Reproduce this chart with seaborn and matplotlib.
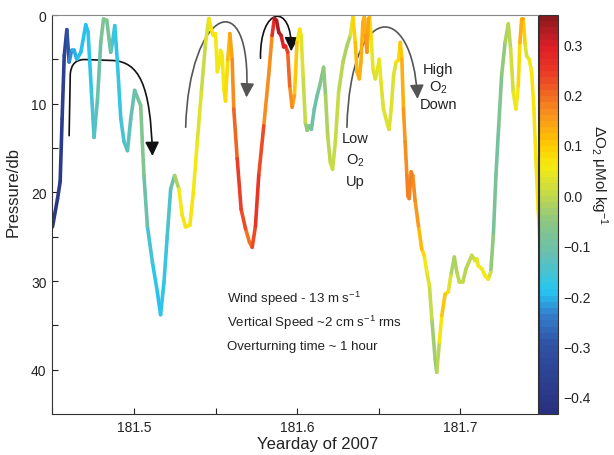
import numpy as np
import pandas as pd
import matplotlib
matplotlib.use("Agg")
import matplotlib.pyplot as plt
import seaborn as sns
from matplotlib.colors import LinearSegmentedColormap, Normalize
from matplotlib.path import Path
from matplotlib.patches import FancyArrowPatch
import matplotlib.cm as cm

# ---------------- data ----------------
yearday = [
    181.4500, 181.4531, 181.4547, 181.4559, 181.4572, 181.4588, 181.4602, 181.4617, 181.4633, 181.4649,
    181.4674, 181.4704, 181.4718, 181.4739, 181.4755, 181.4776, 181.4796, 181.4813, 181.4833, 181.4847,
    181.4857, 181.4868, 181.4882, 181.4898, 181.4919, 181.4939, 181.4960, 181.4980, 181.5004, 181.5021,
    181.5041, 181.5051, 181.5061, 181.5082, 181.5113, 181.5143, 181.5163, 181.5184, 181.5204, 181.5225,
    181.5249, 181.5275, 181.5296, 181.5316, 181.5343, 181.5364, 181.5388, 181.5413, 181.5439, 181.5459,
    181.5474, 181.5486, 181.5500, 181.5511, 181.5520, 181.5531, 181.5541, 181.5551, 181.5561, 181.5575,
    181.5588, 181.5602, 181.5612, 181.5633, 181.5657, 181.5684, 181.5708, 181.5725, 181.5745, 181.5765,
    181.5796, 181.5826, 181.5847, 181.5861, 181.5874, 181.5888, 181.5902, 181.5918, 181.5929, 181.5943,
    181.5955, 181.5970, 181.5984, 181.6000, 181.6016, 181.6025, 181.6037, 181.6051, 181.6062, 181.6076,
    181.6088, 181.6106, 181.6123, 181.6139, 181.6153, 181.6163, 181.6175, 181.6188, 181.6204, 181.6218,
    181.6235, 181.6255, 181.6282, 181.6306, 181.6327, 181.6343, 181.6357, 181.6368, 181.6382, 181.6392,
    181.6404, 181.6412, 181.6420, 181.6429, 181.6437, 181.6445, 181.6455, 181.6466, 181.6480, 181.6494,
    181.6504, 181.6515, 181.6530, 181.6551, 181.6564, 181.6578, 181.6592, 181.6608, 181.6622, 181.6633,
    181.6643, 181.6653, 181.6663, 181.6674, 181.6680, 181.6688, 181.6700, 181.6710, 181.6724, 181.6745,
    181.6765, 181.6780, 181.6796, 181.6812, 181.6827, 181.6847, 181.6857, 181.6873, 181.6888, 181.6908,
    181.6928, 181.6943, 181.6965, 181.6980, 181.6996, 181.7017, 181.7037, 181.7072, 181.7092, 181.7102,
    181.7112, 181.7133, 181.7153, 181.7173, 181.7188, 181.7204, 181.7220, 181.7237, 181.7255, 181.7276,
    181.7296, 181.7310, 181.7326, 181.7343, 181.7357, 181.7367, 181.7378, 181.7388, 181.7398, 181.7408,
    181.7424, 181.7439, 181.7453, 181.7465, 181.7479, 181.7493,
]
pressure = [
    23.9, 20.7, 18.8, 11.7, 4.6, 1.65, 5.3, 4.0, 4.0, 5.0,
    4.2, 1.1, 1.9, 8.7, 13.8, 9.5, 3.1, 0.45, 0.6, 2.7,
    4.2, 3.1, 1.2, 5.3, 11.7, 14.3, 15.3, 11.7, 8.5, 9.3,
    10.2, 14.3, 18.1, 23.8, 27.9, 31.2, 33.8, 30.1, 24.9, 19.6,
    18.1, 19.6, 22.6, 23.9, 23.7, 20.0, 14.3, 8.7, 3.1, 0.4,
    1.6, 2.3, 2.1, 6.4, 5.7, 4.0, 4.6, 8.3, 9.7, 5.0,
    2.1, 5.0, 10.6, 16.2, 21.9, 24.1, 25.6, 26.2, 23.8, 18.1,
    12.5, 6.8, 2.3, 0.4, 0.6, 1.95, 2.3, 3.6, 3.5, 4.2,
    8.0, 10.4, 9.1, 3.1, 1.6, 2.3, 6.8, 12.1, 13.0, 12.5,
    12.9, 10.6, 9.1, 8.0, 6.8, 5.9, 9.1, 13.6, 16.6, 17.4,
    14.3, 8.7, 5.3, 3.5, 2.3, 0.26, 3.1, 6.4, 7.2, 5.3,
    0.8, 0.26, 2.3, 4.2, 0.45, 0.26, 2.7, 6.1, 7.2, 6.1,
    5.0, 7.6, 10.6, 12.1, 12.9, 10.6, 6.8, 5.3, 5.1, 3.1,
    5.0, 10.6, 14.3, 18.1, 20.4, 20.7, 17.7, 18.1, 20.9, 23.8,
    26.4, 27.1, 29.0, 30.5, 34.3, 38.8, 40.3, 36.9, 33.9, 31.5,
    31.2, 29.4, 27.3, 29.0, 30.1, 30.1, 28.6, 27.1, 27.7, 27.5,
    28.3, 28.6, 29.4, 29.8, 29.0, 24.9, 18.1, 12.5, 6.8, 3.1,
    1.0, 3.8, 8.7, 10.6, 8.0, 3.1, 0.45, 0.45, 3.1, 4.6,
    5.0, 6.4, 10.6, 16.2, 21.9, 26.5,
]
delta_o2 = [
    -0.41, -0.40, -0.39, -0.38, -0.36, -0.35, -0.25, -0.22, -0.20, -0.20,
    -0.19, -0.20, -0.19, -0.17, -0.14, -0.13, -0.09, -0.07, -0.08, -0.09,
    -0.12, -0.16, -0.18, -0.17, -0.16, -0.15, -0.13, -0.13, -0.11, -0.09,
    -0.07, -0.07, -0.08, -0.13, -0.17, -0.19, -0.19, -0.18, -0.16, -0.12,
    -0.08, 0.04, 0.07, 0.07, 0.07, 0.06, 0.05, 0.02, 0.00, 0.07,
    0.07, 0.06, 0.06, 0.06, 0.06, 0.05, 0.05, 0.06, 0.07, 0.10,
    0.13, 0.16, 0.18, 0.22, 0.25, 0.20, 0.17, 0.20, 0.25, 0.25,
    0.20, 0.14, 0.20, 0.33, 0.33, 0.33, 0.30, 0.28, 0.27, 0.22,
    0.18, 0.16, 0.12, 0.08, 0.05, 0.04, 0.02, -0.02, -0.06, -0.09,
    -0.10, -0.10, -0.10, -0.08, -0.06, -0.05, -0.03, -0.01, 0.00, 0.00,
    0.00, 0.00, -0.02, -0.03, 0.00, 0.06, 0.12, 0.12, 0.14, 0.13,
    0.13, 0.12, 0.15, 0.16, 0.13, 0.10, 0.06, 0.03, 0.02, 0.03,
    0.05, 0.04, 0.03, 0.03, 0.04, 0.03, 0.02, 0.04, 0.06, 0.09,
    0.12, 0.14, 0.16, 0.17, 0.18, 0.18, 0.17, 0.17, 0.16, 0.14,
    0.10, 0.07, 0.05, 0.02, -0.02, -0.05, -0.05, 0.04, 0.10, 0.12,
    0.05, 0.00, -0.03, -0.02, 0.00, 0.00, -0.01, -0.01, 0.03, 0.03,
    0.05, 0.06, 0.06, 0.05, -0.02, -0.07, -0.09, -0.09, -0.06, -0.03,
    -0.01, 0.00, 0.03, 0.06, 0.06, 0.10, 0.15, 0.14, 0.05, 0.02,
    0.04, 0.06, 0.07, 0.07, 0.07, 0.07,
]

x_ticks = [181.45, 181.5, 181.55, 181.6, 181.65, 181.7]
x_ticklabels = ["", "181.5", "", "181.6", "", "181.7"]
y_ticks = [0, 5, 10, 15, 20, 25, 30, 35, 40]
y_ticklabels = ["0", "", "10", "", "20", "", "30", "", "40"]
cbar_ticks = [-0.4, -0.3, -0.2, -0.1, 0.0, 0.1, 0.2, 0.3]

notes = ["Wind speed - 13 m s$^{-1}$",
         "Vertical Speed ~2 cm s$^{-1}$ rms",
         "Overturning time ~ 1 hour"]

# colormap anchors sampled from the reference colour bar
vmin, vmax = -0.434, 0.358
cmap_vals = [-0.434, -0.30, -0.24, -0.19, -0.12, -0.05, 0.0, 0.06, 0.10, 0.17, 0.25, 0.30, 0.358]
cmap_cols = [(0.16, 0.19, 0.50), (0.19, 0.32, 0.64), (0.20, 0.50, 0.80), (0.15, 0.78, 0.95),
             (0.40, 0.75, 0.70), (0.55, 0.78, 0.50), (0.76, 0.85, 0.30), (0.96, 0.92, 0.06),
             (1.00, 0.80, 0.00), (0.97, 0.55, 0.12), (0.92, 0.22, 0.15), (0.87, 0.12, 0.15),
             (0.55, 0.10, 0.12)]

# ---------------- style ----------------
sns.set_theme(style="white")
plt.rcParams["font.family"] = ["Liberation Sans", "DejaVu Sans"]
plt.rcParams["mathtext.default"] = "regular"

frac = [(v - vmin) / (vmax - vmin) for v in cmap_vals]
cmap = LinearSegmentedColormap.from_list("o2", list(zip(frac, cmap_cols)), N=64)
norm = Normalize(vmin=vmin, vmax=vmax)

fig = plt.figure(figsize=(6.14, 4.56), dpi=100)
ax = fig.add_axes([0.0847, 0.0899, 0.7915, 0.875])
cax = fig.add_axes([0.8779, 0.0899, 0.031, 0.875])

# segment table (each consecutive pair coloured by its mean ΔO2)
rows = []
for i in range(len(yearday) - 1):
    val = 0.5 * (delta_o2[i] + delta_o2[i + 1])
    rows.append((yearday[i], pressure[i], i, val))
    rows.append((yearday[i + 1], pressure[i + 1], i, val))
seg = pd.DataFrame(rows, columns=["yearday", "pressure", "seg", "do2"])

sns.lineplot(data=seg, x="yearday", y="pressure", hue="do2", units="seg",
             estimator=None, sort=False, palette=cmap, hue_norm=norm,
             legend=False, lw=2.6, solid_capstyle="round", ax=ax)

ax.set_xlim(181.4497, 181.7478)
ax.set_ylim(45, 0)
ax.set_xticks(x_ticks)
ax.set_xticklabels(x_ticklabels)
ax.set_yticks(y_ticks)
ax.set_yticklabels(y_ticklabels)
ax.tick_params(direction="in", length=4, width=0.8, colors="#222222",
               labelsize=10, bottom=True, left=True, top=False, right=False, pad=4)
for s in ax.spines.values():
    s.set_color("#333333")
    s.set_linewidth(0.8)
ax.spines["top"].set_color("#888888")

ax.set_xlabel("Yearday of 2007", fontsize=12, color="#222222")
ax.set_ylabel("Pressure/db", fontsize=12, color="#222222")
ax.xaxis.set_label_coords(0.547, -0.055)
ax.yaxis.set_label_coords(-0.064, 0.559)

# text notes
for k, (t, yy) in enumerate(zip(notes, [31.9, 34.6, 37.3])):
    ax.text(181.557, yy, t, fontsize=9.5, va="center", ha="left", color="#222222")
ax.text(181.6357, 16.3, "Low\nO$_2$\nUp", fontsize=10.5, ha="center", va="center",
        multialignment="center", linespacing=1.55, color="#222222")
ax.text(181.6866, 8.1, "High\nO$_2$\nDown", fontsize=10.5, ha="center", va="center",
        multialignment="center", linespacing=1.2, color="#222222")

# curved arrows (annotations)
arrows = [
    ([(181.4602, 13.61), (181.4609, 6.65), (181.4616, 5.07), (181.4692, 5.02),
      (181.4870, 5.13), (181.5029, 5.30), (181.5102, 7.78), (181.5113, 15.9)],
     [Path.MOVETO, Path.LINETO, Path.CURVE3, Path.CURVE3, Path.LINETO,
      Path.CURVE4, Path.CURVE4, Path.CURVE4], "#111111"),
    ([(181.5317, 12.66), (181.5336, -0.68), (181.5727, -4.06), (181.5690, 9.3)],
     [Path.MOVETO, Path.CURVE4, Path.CURVE4, Path.CURVE4], "#555555"),
    ([(181.5776, 4.88), (181.5770, -1.0), (181.5972, -1.5), (181.5964, 4.1)],
     [Path.MOVETO, Path.CURVE4, Path.CURVE4, Path.CURVE4], "#111111"),
    ([(181.6306, 12.66), (181.6327, -1.80), (181.6709, -1.80), (181.6739, 9.47)],
     [Path.MOVETO, Path.CURVE4, Path.CURVE4, Path.CURVE4], "#555555"),
]
for verts, codes, col in arrows:
    p = FancyArrowPatch(path=Path(verts, codes), arrowstyle="-|>,head_length=0.6,head_width=0.3",
                        mutation_scale=14, color=col, lw=1.2, transform=ax.transData,
                        clip_on=False)
    ax.add_patch(p)

# colour bar
sm = cm.ScalarMappable(norm=norm, cmap=cmap)
cb = fig.colorbar(sm, cax=cax)
cb.set_ticks(cbar_ticks)
cb.outline.set_edgecolor("#333333")
cb.outline.set_linewidth(0.8)
cax.tick_params(direction="in", length=3, width=0.7, colors="#222222", labelsize=10,
                left=True, right=True, pad=4)
cax.yaxis.set_ticks_position("both")
cax.tick_params(labelleft=False, labelright=True)
cb.set_label("ΔO$_2$ μMol kg$^{-1}$", fontsize=11, rotation=270, color="#222222")
cax.yaxis.set_label_coords(3.72, 0.60)

fig.savefig("out.png", dpi=100)
